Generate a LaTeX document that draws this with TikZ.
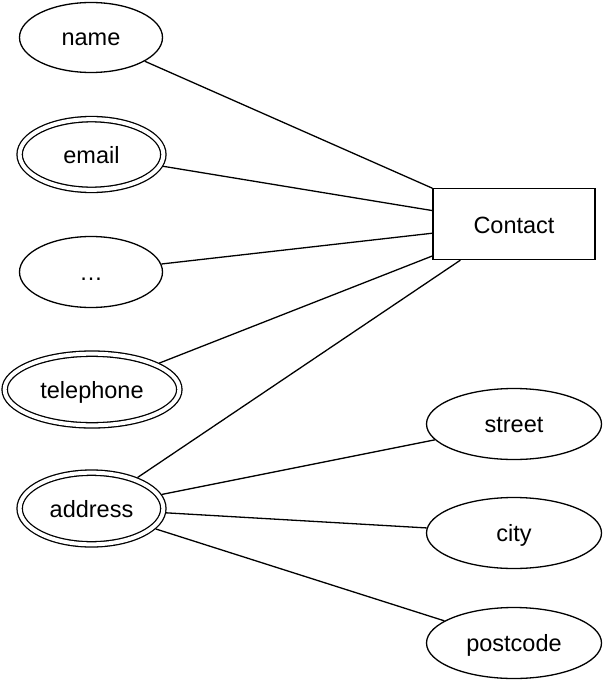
\documentclass[tikz,border=0pt]{standalone}
\usepackage{fontspec}
\setmainfont{Liberation Sans}
\usetikzlibrary{shapes.geometric}
\begin{document}
\begin{tikzpicture}[x=1pt,y=-1pt,
  every node/.style={font=\fontsize{23.5}{28}\selectfont, inner sep=0pt, text height=17pt, text depth=0pt},
  attr/.style={ellipse, draw, line width=1.3pt},
  multiattr/.style={ellipse, draw, line width=1.3pt, double, double distance=4pt, outer sep=3.3pt},
  entity/.style={rectangle, draw, line width=1.3pt, minimum width=162pt, minimum height=71pt},
  link/.style={line width=1.3pt}]
\useasboundingbox (0,0) rectangle (604,682);
\node[entity, text height=18pt] (contact) at (514,224) {Contact};
\node[attr, minimum width=143pt, minimum height=70pt] (name) at (91,37.5) {name};
\node[multiattr, minimum width=143.7pt, minimum height=70.7pt] (email) at (91.5,154.5) {email};
\node[attr, minimum width=143pt, minimum height=71pt] (dots) at (91,272) {…};
\node[multiattr, minimum width=174.7pt, minimum height=71.7pt] (tel) at (92,389.5) {telephone};
\node[multiattr, minimum width=143.7pt, minimum height=71.7pt] (addr) at (91.5,508.5) {address};
\node[attr, minimum width=175pt, minimum height=71pt] (street) at (514,424) {street};
\node[attr, minimum width=175pt, minimum height=71pt] (city) at (514,533) {city};
\node[attr, minimum width=175pt, minimum height=71pt] (post) at (514,643) {postcode};
\draw[link] (name) -- (contact);
\draw[link] (email) -- (contact);
\draw[link] (dots) -- (contact);
\draw[link] (tel) -- (contact);
\draw[link] (addr) -- (contact);
\draw[link] (addr) -- (street);
\draw[link] (addr) -- (city);
\draw[link] (addr) -- (post);
\end{tikzpicture}
\end{document}
